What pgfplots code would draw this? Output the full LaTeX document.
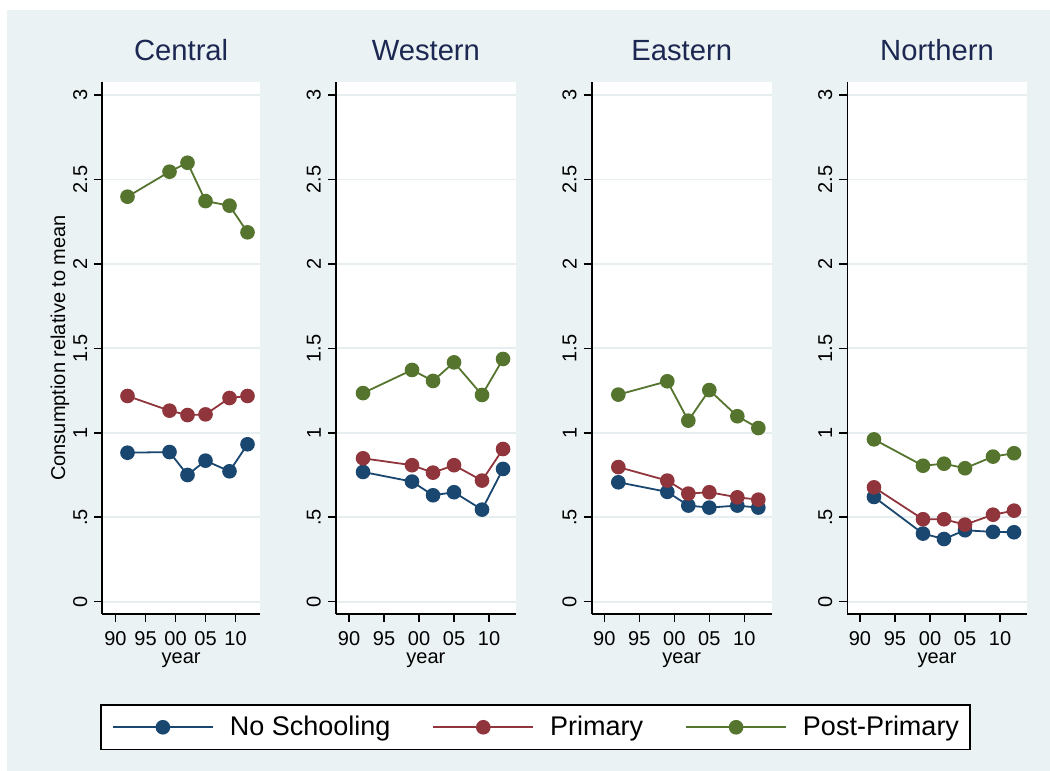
\documentclass[border=0pt]{standalone}
\usepackage{pgfplots}
\pgfplotsset{compat=1.18}
\usepackage{fontspec}
\setmainfont{Liberation Sans}
\definecolor{bgcol}{RGB}{234,242,243}
\definecolor{gridcol}{RGB}{230,238,240}
\definecolor{titlecol}{RGB}{28,40,82}
\definecolor{cnavy}{RGB}{26,71,111}
\definecolor{cmaroon}{RGB}{144,53,59}
\definecolor{cgreen}{RGB}{85,117,47}

% year none primary post
\pgfplotstableread{
x  n     p     q
92 0.882 1.218 2.398
99 0.886 1.131 2.546
102 0.750 1.105 2.599
105 0.835 1.109 2.372
109 0.772 1.206 2.345
112 0.932 1.218 2.187
}\central
\pgfplotstableread{
x  n     p     q
92 0.768 0.849 1.235
99 0.711 0.808 1.372
102 0.630 0.764 1.307
105 0.648 0.808 1.417
109 0.545 0.717 1.224
112 0.786 0.904 1.437
}\western
\pgfplotstableread{
x  n     p     q
92 0.707 0.797 1.226
99 0.650 0.717 1.305
102 0.569 0.640 1.072
105 0.557 0.648 1.253
109 0.569 0.618 1.098
112 0.557 0.604 1.028
}\eastern
\pgfplotstableread{
x  n     p     q
92 0.620 0.677 0.961
99 0.403 0.488 0.805
102 0.371 0.488 0.817
105 0.423 0.456 0.790
109 0.413 0.515 0.859
112 0.411 0.539 0.879
}\northern

\pgfplotsset{
  panel/.style={
    scale only axis, anchor=south west, height=266.15pt,
    ymin=-0.073, ymax=3.079,
    axis x line*=bottom, axis y line*=left,
    axis line style={-, black, line width=0.8pt},
    major tick style={black, line width=0.8pt},
    tick align=outside, major tick length=4pt,
    xtick={90,95,100,105,110}, xticklabels={90,95,00,05,10},
    ytick={0,0.5,1,1.5,2,2.5,3}, yticklabels={0,.5,1,1.5,2,2.5,3},
    /pgf/number format/assume math mode=true,
    ticklabel style={font=\fontsize{10}{11}\selectfont},
    yticklabel style={rotate=90, anchor=south},
    xticklabel style={yshift=-1.2pt},
    ymajorgrids, major grid style={gridcol, line width=0.9pt},
    axis background/.style={fill=white},
    title style={at={(0.5,1)}, anchor=base, yshift=4.35pt, font=\fontsize{14.6}{16}\selectfont, text=titlecol},
    xlabel={year},
    xlabel style={at={(axis description cs:0.5,0)}, anchor=base, yshift=-24.6pt, font=\fontsize{10}{12}\selectfont},
    clip=false,
    legend image code/.code={\draw[##1, line width=0.9pt, mark repeat=2, mark phase=2] plot coordinates {(0pt,0pt) (25pt,0pt) (50pt,0pt)};},
  },
  sn/.style={cnavy, line width=0.9pt, mark=*, mark size=3.2pt, mark options={solid, fill=cnavy, draw=cnavy}},
  sp/.style={cmaroon, line width=0.9pt, mark=*, mark size=3.2pt, mark options={solid, fill=cmaroon, draw=cmaroon}},
  sq/.style={cgreen, line width=0.9pt, mark=*, mark size=3.2pt, mark options={solid, fill=cgreen, draw=cgreen}},
}

\begin{document}
\begin{tikzpicture}
\useasboundingbox (0,0) rectangle (525pt,385.5pt);
\fill[white] (0,0) rectangle (525pt,385.5pt);
\fill[bgcol] (3.5pt,0) rectangle (525pt,380.5pt);

\begin{axis}[panel, at={(51.15pt,78.5pt)}, width=78.85pt, xmin=87.8, xmax=114.08,
  title={Central},
  ylabel={Consumption relative to mean},
  ylabel style={at={(axis description cs:-0.268,0.5)}, anchor=center, font=\fontsize{10}{12}\selectfont},
  legend columns=3, legend cell align=left,
  legend style={at={(axis description cs:2.747,-0.2128)}, anchor=center,
    draw=black, line width=0.75pt, fill=white, inner xsep=5.5pt, inner ysep=5.5pt,
    font=\fontsize{13.5}{15}\selectfont,
    nodes={inner sep=0pt},
    /tikz/every odd column/.append style={column sep=8pt},
    /tikz/every even column/.append style={column sep=21pt}},
]
\addplot[sn] table[x=x,y=n]{\central};
\addplot[sp] table[x=x,y=p]{\central};
\addplot[sq] table[x=x,y=q]{\central};
\legend{No Schooling,Primary,Post-Primary}
\end{axis}

\begin{axis}[panel, at={(168pt,78.5pt)}, width=89.85pt, xmin=88.14, xmax=113.81, title={Western}]
\addplot[sn] table[x=x,y=n]{\western};
\addplot[sp] table[x=x,y=p]{\western};
\addplot[sq] table[x=x,y=q]{\western};
\end{axis}

\begin{axis}[panel, at={(295.85pt,78.5pt)}, width=90pt, xmin=88.2, xmax=113.91, title={Eastern}]
\addplot[sn] table[x=x,y=n]{\eastern};
\addplot[sp] table[x=x,y=p]{\eastern};
\addplot[sq] table[x=x,y=q]{\eastern};
\end{axis}

\begin{axis}[panel, at={(423.65pt,78.5pt)}, width=89.7pt, xmin=88.19, xmax=113.81, title={Northern}]
\addplot[sn] table[x=x,y=n]{\northern};
\addplot[sp] table[x=x,y=p]{\northern};
\addplot[sq] table[x=x,y=q]{\northern};
\end{axis}
\end{tikzpicture}
\end{document}
